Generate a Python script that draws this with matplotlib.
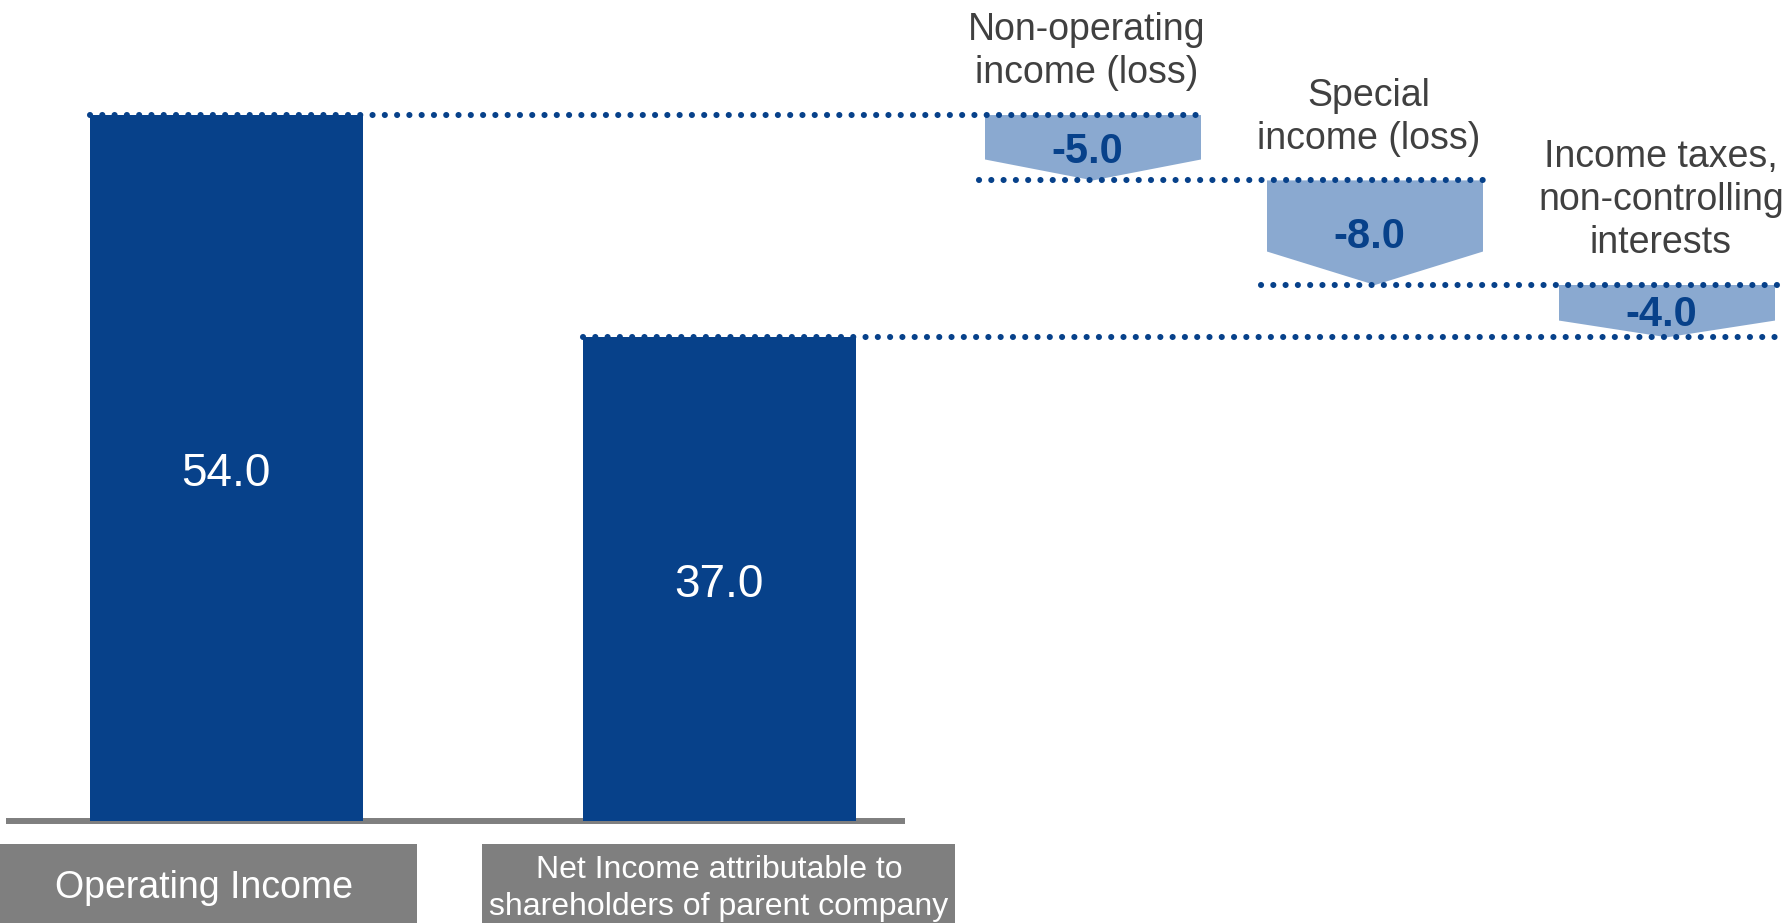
import numpy as np
import matplotlib.pyplot as plt
from matplotlib.patches import Polygon, Rectangle

plt.rcParams['font.family'] = ['Liberation Sans', 'DejaVu Sans']

# data
total_names = ['Operating Income',
               'Net Income attributable to\nshareholders of parent company']
total_values = [54.0, 37.0]
step_names = ['Non-operating\nincome (loss)',
              'Special\nincome (loss)',
              'Income taxes,\nnon-controlling\ninterests']
step_values = [-5.0, -8.0, -4.0]

# layout (x in figure pixels)
total_x = [226, 719]
total_box = [(0, 417), (482, 955)]
total_label_x = [204, 719]
total_fs = [27, 23]
step_x = [1093, 1375, 1667]
bar_w = 273
step_w = 216

dark = '#07418a'
light = '#8aa9d0'
grey = '#7f7f7f'
text_grey = '#404040'

fig = plt.figure(figsize=(17.85, 9.23), dpi=100)
ax = fig.add_axes([0, 0, 1, 1])
ax.set_xlim(0, 1785)
ax.set_ylim(-7.8, 62.8)
ax.axis('off')

# baseline
ax.plot([6, 905], [0, 0], color=grey, lw=4.3, solid_capstyle='butt', zorder=1)

# total bars
ax.bar(total_x, total_values, width=bar_w, color=dark, zorder=2)
for x, v in zip(total_x, total_values):
    ax.annotate(f'{v:.1f}', (x, v / 2), xytext=(0, -4), textcoords='offset points',
                color='white', fontsize=33, ha='center', va='center', zorder=3)

# category boxes under the totals
for (x0, x1), lx, name, fs in zip(total_box, total_label_x, total_names, total_fs):
    ax.add_patch(Rectangle((x0, -7.8), x1 - x0, 7.8 - 1.76, color=grey, lw=0))
    ax.text(lx, -5.15, name, color='white', fontsize=fs,
            ha='center', va='center', linespacing=1.3)

dots = dict(color=dark, lw=4.4, linestyle=(0, (0.01, 2.0)),
            dash_capstyle='round', zorder=4)

# waterfall steps
level = total_values[0]
line_start = total_x[0] - bar_w / 2
for i, (x, v, name) in enumerate(zip(step_x, step_values, step_names)):
    left, right = x - step_w / 2, x + step_w / 2
    line_end = 1785 if i == len(step_x) - 1 else right + 3
    ax.plot([line_start, line_end], [level, level], **dots)
    new = level + v
    knee = level + 0.68 * v
    ax.add_patch(Polygon([(left, level), (right, level), (right, knee),
                          (x, new), (left, knee)], closed=True,
                         color=light, lw=0, zorder=2))
    ax.annotate(f'{v:.1f}', (x - 6, level + v / 2), xytext=(0, -3),
                textcoords='offset points', color=dark, fontsize=30,
                fontweight='bold', ha='center', va='center', zorder=5)
    ax.annotate(name, (x - 6, level), xytext=(0, 17), textcoords='offset points',
                ha='center', va='bottom', fontsize=27, color=text_grey,
                linespacing=1.25)
    line_start = left - 6
    level = new

# final level back to the net income bar
ax.plot([total_x[1] - bar_w / 2, 1785], [level, level], **dots)

fig.savefig('out.png', dpi=100)
